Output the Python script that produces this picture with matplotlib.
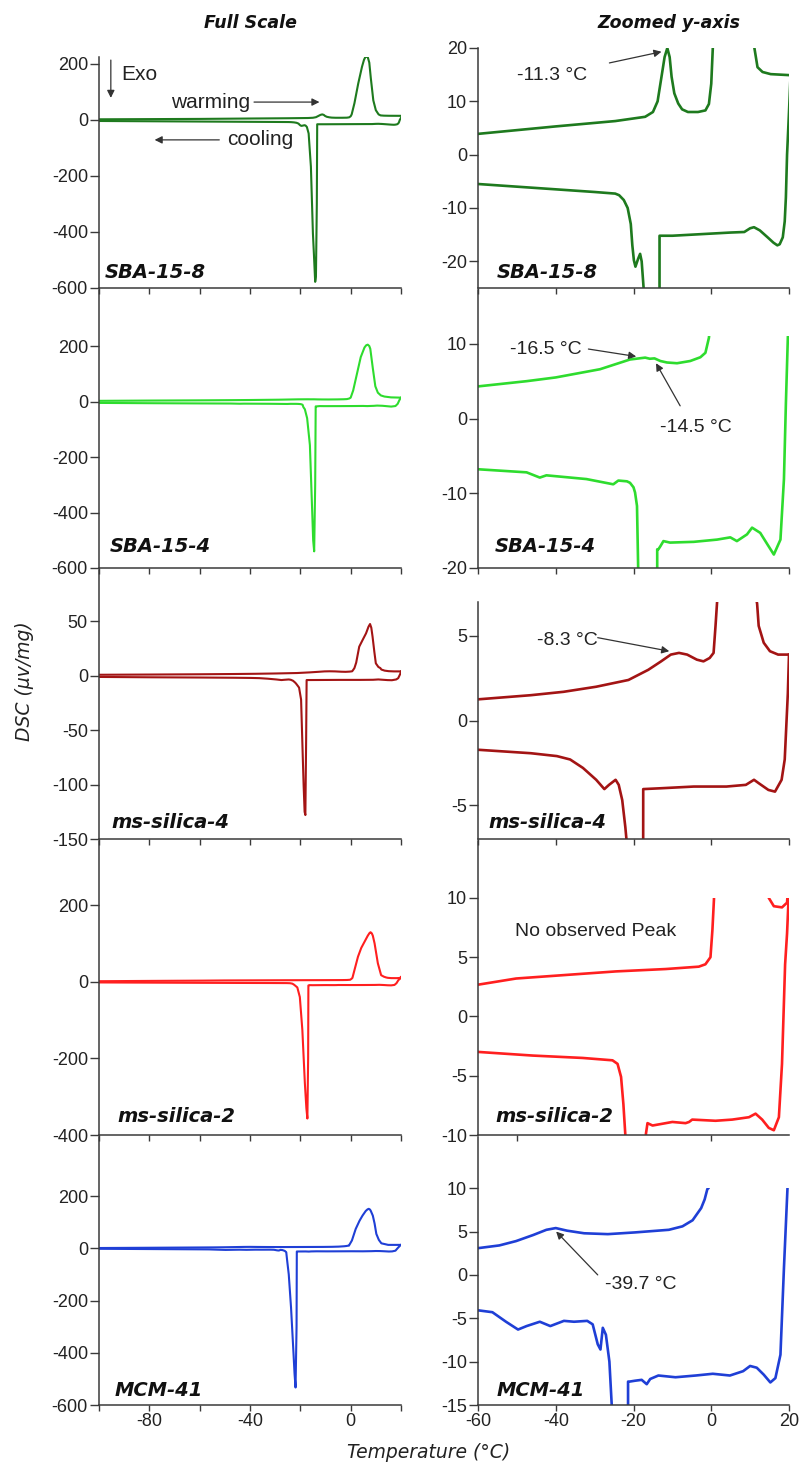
import matplotlib.pyplot as plt
from matplotlib.patches import Rectangle

plt.rcParams['font.family'] = ['Liberation Sans', 'DejaVu Sans']
plt.rcParams['axes.unicode_minus'] = False

# DSC curves: temperature (C) and heat flow (uV/mg)
# warming runs low -> high T, cooling runs high -> low T
sba8_warm_t = [-100, -80, -60, -40, -24.7, -17, -15, -13.8, -12.8, -12, -11.3, -10.7, -10.2, -9.5,
               -8.5, -7.5, -6, -3.4, -1.5, -0.6, 0, 0.4, 1.5, 3, 4.5, 5.3, 5.9, 6.3, 6.8, 7.4,
               8, 9, 10, 11.1, 11.9, 13.2, 15.3, 20.4]
sba8_warm_y = [2.5, 3.2, 3.9, 5.3, 6.3, 7.1, 8.0, 10, 14.6, 18.3, 20, 18.3, 14.6, 11.5,
               9.6, 8.5, 8, 8, 8.3, 9.5, 13.3, 20, 60, 130, 190, 215, 226, 228, 224, 205,
               150, 70, 35, 20, 16.4, 15.5, 15.1, 14.9]
sba8_cool_t = [20.4, 20.0, 19.5, 19.2, 18.9, 18.4, 17.6, 17, 16, 14.5, 12.5, 11.0, 10, 8.5, 5, 0,
               -5, -10, -13.3, -13.45, -13.8, -14.1, -14.6, -15.0, -15.8, -16.7, -17.4, -17.9,
               -18.3, -18.8, -19.5, -19.9, -20.3, -20.7, -21.5, -22.5, -23.7, -24.7, -30, -40,
               -50, -60, -80, -100]
sba8_cool_y = [14.9, 8, 0, -8, -12.5, -15.5, -16.8, -17, -16.5, -15.5, -14.2, -13.6, -13.8, -14.5,
               -14.6, -14.8, -15, -15.2, -15.2, -300, -560, -578, -480, -405, -167, -48, -25,
               -20, -18.6, -19.5, -21, -19.8, -17, -13, -10, -8.5, -7.6, -7.3, -7.0, -6.5,
               -6.0, -5.5, -4.5, -3.5]

sba4_warm_t = [-100, -80, -60, -47.5, -40, -28.6, -20.9, -17, -15.8, -14.6, -13.1, -11.4, -8.8,
               -5.4, -2.8, -1.5, -0.6, 0, 1, 2.5, 4, 5.5, 6.2, 6.8, 7.4, 7.8, 8.8, 9.8, 10.8,
               12, 13.4, 16, 20]
sba4_warm_y = [2.5, 3.5, 4.3, 5.0, 5.5, 6.6, 7.9, 8.15, 8.0, 8.05, 7.7, 7.5, 7.4,
               7.7, 8.2, 8.8, 10.8, 14, 40, 100, 160, 195, 203, 205, 200, 190, 120, 55, 32,
               22, 18, 15, 14]
sba4_cool_t = [20, 19.7, 19.2, 18.7, 17.8, 16.1, 14.4, 12.6, 10.5, 9.2, 6.6, 4.9, 1.5, -4.5,
               -10.6, -12.3, -13.1, -13.6, -13.9, -14.1, -14.5, -14.9, -15.3, -16.2, -17.3,
               -18.2, -18.8, -19.1, -19.6, -20.0, -20.9, -21.7, -23.9, -25.2, -32.1, -42.4,
               -44.1, -47.5, -59.6, -80, -100]
sba4_cool_y = [14, 10.8, 2, -8.1, -16.2, -18.2, -16.8, -15.3, -14.6, -15.5, -16.4, -15.9, -16.2,
               -16.5, -16.6, -16.4, -17.1, -17.5, -17.5, -300, -540, -500, -393, -157, -60,
               -28, -20, -11.7, -9.9, -9.2, -8.6, -8.4, -8.3, -8.8, -8.1, -7.6,
               -7.9, -7.2, -6.8, -6.0, -5.0]

ms4_warm_t = [-100, -80, -59.7, -46.4, -38, -29.6, -21.3, -16.2, -12.9, -10.4, -8.3, -6.2, -3.7,
              -2, -0.4, 0.6, 1.1, 1.5, 2.2, 3.4, 4.8, 6.1, 7.1, 7.7, 8.2, 8.7, 9.4, 10, 11, 11.8,
              12.2, 13.5, 15.1, 17.2, 19.7, 20]
ms4_warm_y = [0.8, 1.0, 1.26, 1.5, 1.7, 2.0, 2.4, 3.0, 3.5, 3.9, 4.0, 3.9, 3.6,
              3.5, 3.7, 4.0, 5.6, 7.0, 12, 26.6, 33, 38.8, 45, 47.4, 44, 35.8, 22, 11.3, 8, 6.9,
              5.6, 4.6, 4.1, 3.9, 3.9, 3.9]
ms4_cool_t = [20, 19.7, 18.9, 18.1, 16.4, 14.7, 12.2, 11, 8.9, 3.9, -4.5, -12.9, -17.5, -17.7,
              -18.0, -18.3, -18.7, -19.0, -19.7, -20.5, -21.3, -21.7, -22.1, -22.9, -23.8,
              -24.6, -26.3, -27.5, -29.6, -33, -36.3, -39.7, -46.4, -59.7, -80, -100]
ms4_cool_y = [3.9, 1.6, -2.3, -3.5, -4.2, -4.1, -3.7, -3.5, -3.8, -3.9, -3.9, -4.0, -4.05, -60,
              -128, -125, -100, -77, -22, -11, -8.5, -7.3, -6.3, -4.7, -3.8,
              -3.5, -3.8, -4.05, -3.5, -2.8, -2.3, -2.1, -1.93, -1.73, -1.5, -1.2]

ms2_warm_t = [-100, -80, -59.6, -50.2, -37.4, -24.5, -11.7, -3.2, -1.5, -0.2, 0.3, 0.7, 1.5, 2.9,
              4.2, 5.5, 6.8, 7.5, 7.9, 8.4, 8.8, 9.5, 10.8, 12.1, 13.2, 14.1, 14.8, 16.1, 18.2,
              19.5, 20]
ms2_warm_y = [1.2, 2.0, 2.7, 3.2, 3.5, 3.8, 4.0, 4.2, 4.4, 5.0, 7.3, 9.9, 30, 65,
              88, 104, 120, 127, 129, 126, 120, 100, 48, 17, 13, 11, 10, 9.3, 9.2,
              9.6, 12]
ms2_cool_t = [20, 19.9, 19.5, 19, 18.2, 17.4, 16.1, 14.8, 13.1, 11.4, 9.7, 5.4, 1.1, -4.9, -5.7,
              -6.6, -10, -11.7, -15.1, -16.4, -16.8, -16.9, -17.2, -17.6, -18.2, -19.2, -20.2,
              -21.2, -22.1, -22.6, -23.2, -24.1, -25.4, -33.1, -45.9, -59.6, -80, -100]
ms2_cool_y = [12, 10, 7, 4.4, -4, -8.5, -9.6, -9.4, -8.7, -8.2, -8.5, -8.7, -8.8, -8.7, -8.9,
              -9.0, -8.9, -9.0, -9.2, -9.0, -9.9, -200, -357, -330, -265, -126, -40,
              -15, -10, -7.4, -5.1, -4.0, -3.7, -3.5, -3.3, -3.0, -2.5, -2.0]

mcm_warm_t = [-100, -80, -59.7, -54.5, -50.2, -45.8, -42.4, -40, -37.1, -32.7, -26.6, -19.6,
              -10.9, -7.4, -4.8, -2.6, -1.7, -1.0, -0.7, 0.5, 2, 3.5, 4.7, 6, 6.7, 7.2, 7.7, 8,
              8.8, 9.5, 10.2, 11.2, 12.2, 14.9, 20]
mcm_warm_y = [1.0, 2.0, 3.1, 3.4, 3.9, 4.6, 5.2, 5.4, 5.1, 4.8, 4.7, 4.9,
              5.2, 5.6, 6.3, 7.7, 8.7, 9.9, 10, 30, 74, 105, 125, 143, 149, 151, 148, 143,
              125, 95, 55, 32, 19, 13, 13]
mcm_cool_t = [20, 19.6, 18.7, 17.8, 16.5, 15.2, 13.5, 11.7, 10, 8.2, 4.8, 0.4, -4, -9.2, -13.6,
              -15.7, -16.6, -17.9, -19.6, -21.0, -21.4, -21.5, -21.9, -22.3, -22.7, -23.7,
              -24.6, -25.2, -25.6, -26.2, -27.1, -27.9, -28.5, -29.2, -30.5, -31.9, -35.3,
              -37.9, -41.4, -44.1, -47.5, -49.7, -52.8, -56.3, -59.7, -80, -100]
mcm_cool_y = [13, 9.9, 0.8, -9.2, -11.9, -12.4, -11.5, -10.7, -10.5, -11.1, -11.6, -11.4, -11.6,
              -11.8, -11.6, -12.0, -12.6, -12.1, -12.2, -12.3, -12.3, -300, -533, -480, -405,
              -226, -100, -50, -15, -10, -6.9, -6.1, -8.6, -8.0, -5.7, -5.3, -5.4, -5.3,
              -5.9, -5.4, -5.9, -6.3, -5.4, -4.3, -4.1, -3, -2]

names = ['SBA-15-8', 'SBA-15-4', 'ms-silica-4', 'ms-silica-2', 'MCM-41']
colors = ['#1e7a1e', '#2edc2e', '#a31414', '#ff1f1f', '#1f3fd6']
warm_t = [sba8_warm_t, sba4_warm_t, ms4_warm_t, ms2_warm_t, mcm_warm_t]
warm_y = [sba8_warm_y, sba4_warm_y, ms4_warm_y, ms2_warm_y, mcm_warm_y]
cool_t = [sba8_cool_t, sba4_cool_t, ms4_cool_t, ms2_cool_t, mcm_cool_t]
cool_y = [sba8_cool_y, sba4_cool_y, ms4_cool_y, ms2_cool_y, mcm_cool_y]

full_yticks = [[-600, -400, -200, 0, 200], [-600, -400, -200, 0, 200],
               [-150, -100, -50, 0, 50], [-400, -200, 0, 200], [-600, -400, -200, 0, 200]]
zoom_yticks = [[-20, -10, 0, 10, 20], [-20, -10, 0, 10], [-5, 0, 5],
               [-10, -5, 0, 5, 10], [-15, -10, -5, 0, 5, 10]]
full_xticks = [-100, -80, -60, -40, -20, 0, 20]
full_xlabels = ['', '-80', '', '-40', '', '0', '']
zoom_xticks = [-60, -40, -20, 0, 20]
zoom_xticks_row4 = [-50, 0]

# layout in pixels of the 799 x 1475 figure
W, H = 799, 1475
left_x = (99, 401)
right_x = (478, 789)
row_bottom = [288, 568, 839, 1135, 1405]
left_top = [57, 290, 570, 841, 1137]
right_top = [48, 290, 570, 841, 1137]
full_ylim = [(-600, 225), (-600, 402), (-150, 97), (-400, 367), (-600, 426)]
zoom_ylim = [(-25, 20), (-20, 17.2), (-7, 8.9), (-10, 14.8), (-15, 15.9)]
zoom_window = [(-25, 20), (-20, 11), (-7, 7), (-10, 10), (-15, 10)]
full_label_xy = [(105, 272), (110, 547), (111, 822), (117, 1117), (115, 1391)]
zoom_label_xy = [(497, 272), (495, 547), (488, 822), (495, 1117), (497, 1391)]

axis_col = '#3a3a3a'
text_col = '#222222'
arrow = dict(arrowstyle='-|>', color='#333333', lw=0.9, mutation_scale=11, shrinkA=0, shrinkB=0)


def px_axes(fig, x0, x1, y0, y1):
    return fig.add_axes([x0 / W, 1 - y1 / H, (x1 - x0) / W, (y1 - y0) / H])


def style(ax, xlim, ylim):
    ax.set_xlim(*xlim)
    ax.set_ylim(*ylim)
    ax.set_facecolor('none')
    ax.spines['top'].set_visible(False)
    ax.spines['right'].set_visible(False)
    for s in ('left', 'bottom'):
        ax.spines[s].set_color(axis_col)
        ax.spines[s].set_linewidth(1.1)
    ax.tick_params(direction='out', width=1, color=axis_col,
                   labelsize=13, labelcolor=text_col, pad=1.5)
    ax.tick_params(axis='y', length=6.5)
    ax.tick_params(axis='x', length=4.5)


def bold_label(x, y, s, **kw):
    fig.text(x / W, 1 - y / H, s, family='DejaVu Sans', weight='bold', style='italic',
             color='#111111', va='center', **kw)


fig = plt.figure(figsize=(W / 100, H / 100), dpi=100)

for i in range(5):
    last = i == 4
    # full scale column
    ax = px_axes(fig, left_x[0], left_x[1], left_top[i], row_bottom[i])
    style(ax, (-100, 20), full_ylim[i])
    ax.plot(warm_t[i], warm_y[i], color=colors[i], lw=1.5)
    ax.plot(cool_t[i], cool_y[i], color=colors[i], lw=1.5)
    ax.set_yticks(full_yticks[i])
    ax.set_xticks(full_xticks, full_xlabels if last else [''] * len(full_xticks))
    bold_label(*full_label_xy[i], names[i], fontsize=14)

    # zoomed column
    az = px_axes(fig, right_x[0], right_x[1], right_top[i], row_bottom[i])
    style(az, (-60, 20), zoom_ylim[i])
    lo, hi = zoom_window[i]
    for t, y in ((warm_t[i], warm_y[i]), (cool_t[i], cool_y[i])):
        ln, = az.plot(t, y, color=colors[i], lw=1.9)
        ln.set_clip_path(Rectangle((-60, lo), 80, hi - lo, transform=az.transData))
    az.set_yticks(zoom_yticks[i])
    xt = zoom_xticks_row4 if i == 3 else zoom_xticks
    az.set_xticks(xt, [str(v) for v in xt] if last else [''] * len(xt))
    if i == 2:
        az.spines['left'].set_bounds(lo, hi)
    bold_label(*zoom_label_xy[i], names[i], fontsize=14)

    if i == 0:
        ax.annotate('', xy=(-95.3, 79), xytext=(-95.3, 214), arrowprops=arrow)
        ax.text(-91, 161, 'Exo', fontsize=15, color=text_col, va='center')
        ax.text(-71.2, 64, 'warming', fontsize=15, color=text_col, va='center')
        ax.annotate('', xy=(-12.4, 64), xytext=(-38.4, 64), arrowprops=arrow)
        ax.text(-49, -71, 'cooling', fontsize=15, color=text_col, va='center')
        ax.annotate('', xy=(-77.9, -71), xytext=(-52.2, -71), arrowprops=arrow)
        az.text(-50, 14.8, '-11.3 °C', fontsize=14, color=text_col, va='center')
        az.annotate('', xy=(-12.8, 19.3), xytext=(-26.2, 17.2), arrowprops=arrow)
    elif i == 1:
        az.text(-51.8, 9.3, '-16.5 °C', fontsize=14, color=text_col, va='center')
        az.annotate('', xy=(-19.3, 8.3), xytext=(-31.6, 9.3), arrowprops=arrow)
        az.text(-13.3, -1.2, '-14.5 °C', fontsize=14, color=text_col, va='center')
        az.annotate('', xy=(-14.2, 7.4), xytext=(-8, 1.7), arrowprops=arrow)
    elif i == 2:
        az.text(-44.7, 4.76, '-8.3 °C', fontsize=14, color=text_col, va='center')
        az.annotate('', xy=(-10.8, 4.1), xytext=(-29.2, 4.9), arrowprops=arrow)
    elif i == 3:
        az.text(-50.6, 7.2, 'No observed Peak', fontsize=14, color=text_col, va='center')
    else:
        az.text(-27.3, -1.07, '-39.7 °C', fontsize=14, color=text_col, va='center')
        az.annotate('', xy=(-39.9, 5.0), xytext=(-29.2, 0), arrowprops=arrow)

bold_label(250, 23, 'Full Scale', fontsize=12.5, ha='center')
bold_label(669, 23, 'Zoomed y-axis', fontsize=12.5, ha='center')
fig.text(24 / W, 1 - 681 / H, 'DSC (μv/mg)', family='DejaVu Sans', style='italic',
         fontsize=13.5, color=text_col, rotation=90, ha='center', va='center')
fig.text(429 / W, 1 - 1452 / H, 'Temperature (°C)', family='DejaVu Sans', style='italic',
         fontsize=13.5, color=text_col, ha='center', va='center')

fig.savefig('out.png', dpi=100)
